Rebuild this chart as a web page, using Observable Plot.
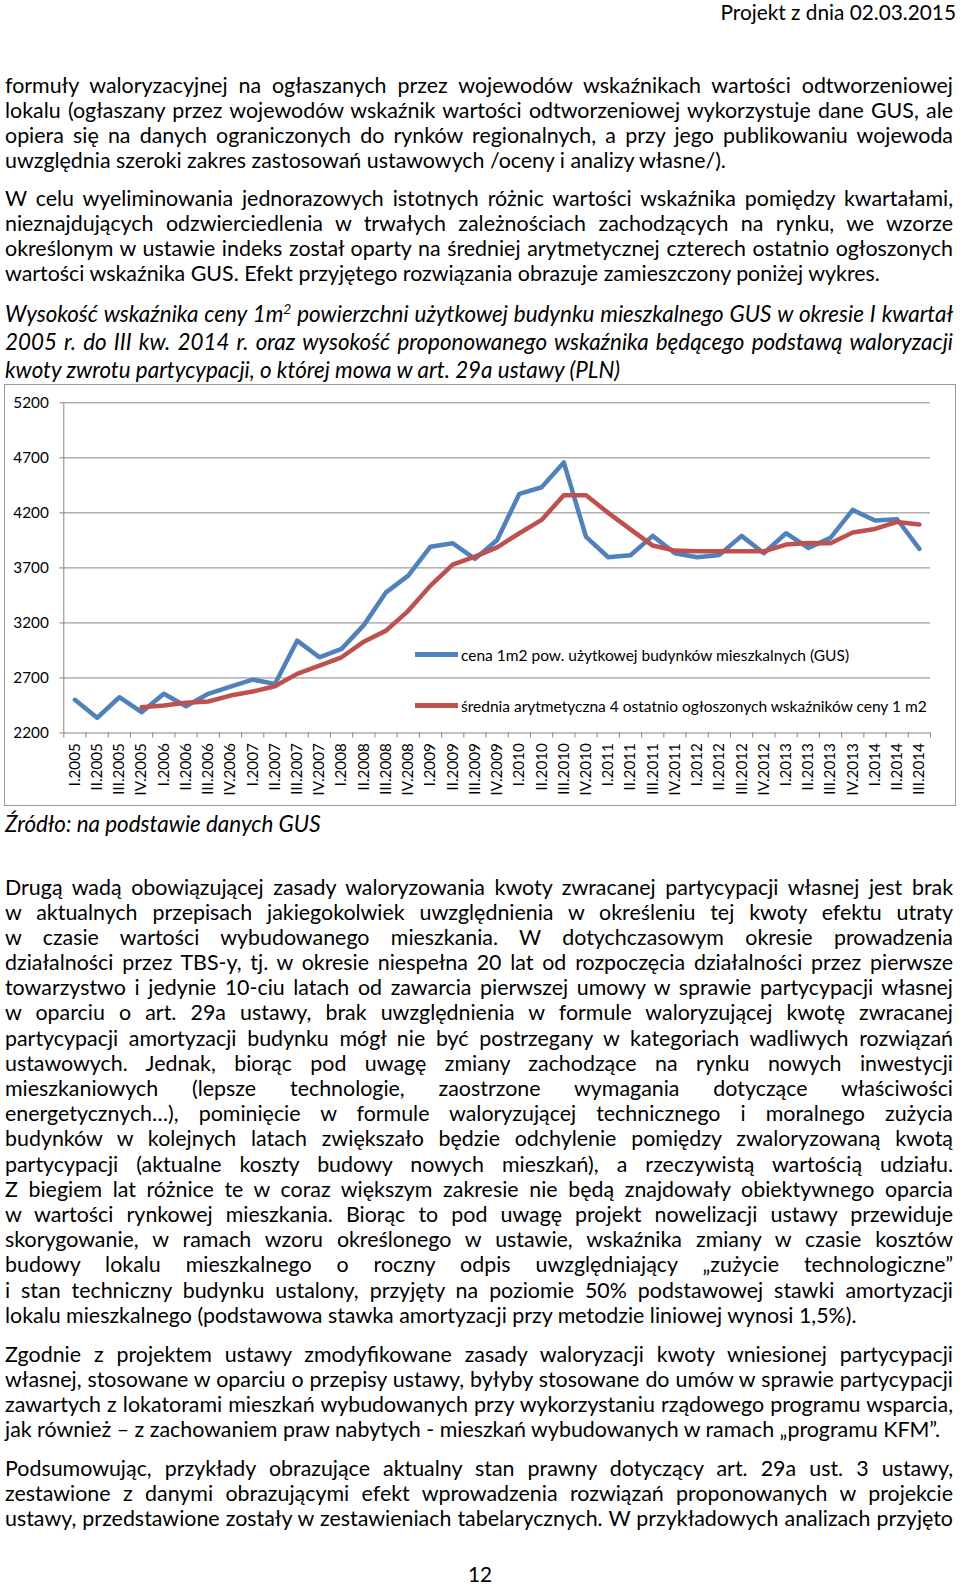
<!DOCTYPE html>
<html lang="pl">
<head>
<meta charset="utf-8">
<script src="https://cdn.jsdelivr.net/npm/d3@7"></script>
<script src="https://cdn.jsdelivr.net/npm/@observablehq/plot@0.6"></script>
<style>
  html, body { margin: 0; padding: 0; background: #fff; }
  #page { position: relative; width: 960px; height: 1585px; overflow: hidden; font-family: Lato, "Open Sans", sans-serif; color: #000; }
  .block { position: absolute; left: 5px; width: 948px; }
  .line { white-space: nowrap; overflow: visible; }
  .line span { white-space: nowrap; }
  .it { font-style: italic; }
  #chart { position: absolute; left: 4px; top: 384px; width: 952px; height: 422px; box-sizing: border-box; border: 1px solid #9a9a9a; }
  #chart svg { position: absolute; left: 0; top: 0; }
  .leg { position: absolute; display: flex; align-items: center; font-size: 15.5px; white-space: nowrap; }
  .leg i { display: inline-block; width: 43px; height: 4.5px; margin-right: 3px; }
</style>
</head>
<body>
<div id="page"></div>
<script>
// ---------- chart data ----------
const categories = ["I.2005","II.2005","III.2005","IV.2005","I.2006","II.2006","III.2006","IV.2006",
  "I.2007","II.2007","III.2007","IV.2007","I.2008","II.2008","III.2008","IV.2008",
  "I.2009","II.2009","III.2009","IV.2009","I.2010","II.2010","III.2010","IV.2010",
  "I.2011","II.2011","III.2011","IV.2011","I.2012","II.2012","III.2012","IV.2012",
  "I.2013","II.2013","III.2013","IV.2013","I.2014","II.2014","III.2014"];
const cenaGUS = [2501,2338,2525,2389,2556,2443,2556,2622,2685,2646,3039,2888,2964,3180,3478,3630,
  3893,3924,3782,3954,4373,4433,4658,3982,3797,3815,3991,3833,3797,3818,3991,3833,
  4015,3882,3973,4227,4130,4142,3873];
const srednia4 = [null,null,null,2434,2450,2474,2486,2540,2577,2625,2737,2813,2888,3030,3130,3310,
  3539,3730,3803,3887,4015,4136,4360,4360,4200,4050,3903,3857,3851,3851,3851,3851,
  3912,3927,3924,4021,4054,4118,4094];
const yTicks = [2200,2700,3200,3700,4200,4700,5200];
const seriesNames = ["cena 1m2 pow. użytkowej budynków mieszkalnych (GUS)",
  "średnia arytmetyczna 4 ostatnio ogłoszonych wskaźników ceny 1 m2"];
const seriesColors = ["#4F81BD", "#C0504D"];

// ---------- text content ----------
const header = "Projekt z dnia 02.03.2015";
const para1 = [
  "formuły waloryzacyjnej na ogłaszanych przez wojewodów wskaźnikach wartości odtworzeniowej",
  "lokalu (ogłaszany przez wojewodów wskaźnik wartości odtworzeniowej wykorzystuje dane GUS, ale",
  "opiera się na danych ograniczonych do rynków regionalnych, a przy jego publikowaniu wojewoda",
  "uwzględnia szeroki zakres zastosowań ustawowych /oceny i analizy własne/)."];
const para2 = [
  "W celu wyeliminowania jednorazowych istotnych różnic wartości wskaźnika pomiędzy kwartałami,",
  "nieznajdujących odzwierciedlenia w trwałych zależnościach zachodzących na rynku, we wzorze",
  "określonym w ustawie indeks został oparty na średniej arytmetycznej czterech ostatnio ogłoszonych",
  "wartości wskaźnika GUS. Efekt przyjętego rozwiązania obrazuje zamieszczony poniżej wykres."];
const titleLines = [
  "Wysokość wskaźnika ceny 1m<sup style=\"font-size:0.62em;line-height:0\">2</sup> powierzchni użytkowej budynku mieszkalnego GUS w okresie I kwartał",
  "2005 r. do III kw. 2014 r. oraz wysokość proponowanego wskaźnika będącego podstawą waloryzacji",
  "kwoty zwrotu partycypacji, o której mowa w art. 29a ustawy (PLN)"];
const source = "Źródło: na podstawie danych GUS";
const para3 = [
  "Drugą wadą obowiązującej zasady waloryzowania kwoty zwracanej partycypacji własnej jest brak",
  "w aktualnych przepisach jakiegokolwiek uwzględnienia w określeniu tej kwoty efektu utraty",
  "w czasie wartości wybudowanego mieszkania. W dotychczasowym okresie prowadzenia",
  "działalności przez TBS-y, tj. w okresie niespełna 20 lat od rozpoczęcia działalności przez pierwsze",
  "towarzystwo i jedynie 10-ciu latach od zawarcia pierwszej umowy w sprawie partycypacji własnej",
  "w oparciu o art. 29a ustawy, brak uwzględnienia w formule waloryzującej kwotę zwracanej",
  "partycypacji amortyzacji budynku mógł nie być postrzegany w kategoriach wadliwych rozwiązań",
  "ustawowych. Jednak, biorąc pod uwagę zmiany zachodzące na rynku nowych inwestycji",
  "mieszkaniowych (lepsze technologie, zaostrzone wymagania dotyczące właściwości",
  "energetycznych…), pominięcie w formule waloryzującej technicznego i moralnego zużycia",
  "budynków w kolejnych latach zwiększało będzie odchylenie pomiędzy zwaloryzowaną kwotą",
  "partycypacji (aktualne koszty budowy nowych mieszkań), a rzeczywistą wartością udziału.",
  "Z biegiem lat różnice te w coraz większym zakresie nie będą znajdowały obiektywnego oparcia",
  "w wartości rynkowej mieszkania. Biorąc to pod uwagę projekt nowelizacji ustawy przewiduje",
  "skorygowanie, w ramach wzoru określonego w ustawie, wskaźnika zmiany w czasie kosztów",
  "budowy lokalu mieszkalnego o roczny odpis uwzględniający „zużycie technologiczne”",
  "i stan techniczny budynku ustalony, przyjęty na poziomie 50% podstawowej stawki amortyzacji",
  "lokalu mieszkalnego (podstawowa stawka amortyzacji przy metodzie liniowej wynosi 1,5%)."];
const para4 = [
  "Zgodnie z projektem ustawy zmodyfikowane zasady waloryzacji kwoty wniesionej partycypacji",
  "własnej, stosowane w oparciu o przepisy ustawy, byłyby stosowane do umów w sprawie partycypacji",
  "zawartych z lokatorami mieszkań wybudowanych przy wykorzystaniu rządowego programu wsparcia,",
  "jak również – z zachowaniem praw nabytych - mieszkań wybudowanych w ramach „programu KFM”."];
const para5 = [
  "Podsumowując, przykłady obrazujące aktualny stan prawny dotyczący art. 29a ust. 3 ustawy,",
  "zestawione z danymi obrazującymi efekt wprowadzenia rozwiązań proponowanych w projekcie",
  "ustawy, przedstawione zostały w zestawieniach tabelarycznych. W przykładowych analizach przyjęto"];
const pageNo = "12";

// ---------- layout ----------
const page = document.getElementById("page");
const W = 948, FS = 21.4, FSI = 22.4, LH = 25.2;

function para(lines, top, opts = {}) {
  const {justifyLast = false, italic = false, lh = LH, fs = italic ? FSI : FS, html = false} = opts;
  const b = document.createElement("div");
  b.className = "block" + (italic ? " it" : "");
  b.style.top = top + "px";
  b.style.fontSize = fs + "px";
  b.style.lineHeight = lh + "px";
  page.appendChild(b);
  lines.forEach((t, k) => {
    const d = document.createElement("div");
    d.className = "line";
    d.style.height = lh + "px";
    const s = document.createElement("span");
    if (html) s.innerHTML = t; else s.textContent = t;
    d.appendChild(s);
    b.appendChild(d);
    const last = k === lines.length - 1;
    const w = s.getBoundingClientRect().width;
    const spaces = s.textContent.trim().split(/\s+/).length - 1;
    if ((!last || justifyLast) && spaces > 0) {
      s.style.wordSpacing = ((W - w) / spaces) + "px";
    } else if (w > W && spaces > 0) {
      s.style.wordSpacing = ((W - w) / spaces) + "px";
    }
  });
  return b;
}

// header
const h = document.createElement("div");
h.textContent = header;
Object.assign(h.style, {position: "absolute", right: "4px", top: "-0.5px", fontSize: "20.8px", lineHeight: "24px"});
page.appendChild(h);

para(para1, 72.5);
para(para2, 185.5);
para(titleLines, 299.5, {italic: true, lh: 28.4, html: true});
para([source], 810.5, {italic: true});
para(para3, 874.5);
para(para4, 1341.5);
para(para5, 1455.5, {justifyLast: true});

const pn = document.createElement("div");
pn.textContent = pageNo;
Object.assign(pn.style, {position: "absolute", left: "0", width: "960px", textAlign: "center", top: "1561px", fontSize: "20.8px", lineHeight: "25px"});
page.appendChild(pn);

// ---------- chart ----------
const chartDiv = document.createElement("div");
chartDiv.id = "chart";
page.appendChild(chartDiv);

const data = categories.map((c, i) => ({i, c, cena: cenaGUS[i], sr: srednia4[i]}));
const boundaries = d3.range(0, categories.length + 1);
const centers = d3.range(0, categories.length).map(i => i + 0.5);

const chart = Plot.plot({
  width: 950, height: 420,
  marginLeft: 58.3, marginRight: 25, marginTop: 17.3, marginBottom: 72.5,
  style: {fontFamily: "Lato, sans-serif", fontSize: "15.3px", color: "#000", background: "transparent", overflow: "visible"},
  x: {domain: [0, categories.length], axis: null},
  y: {domain: [2200, 5200], axis: null},
  marks: [
    Plot.gridY(yTicks, {stroke: "#868686", strokeOpacity: 1, strokeWidth: 1}),
    Plot.ruleX([0], {y1: 2200, y2: 5200, stroke: "#868686"}),
    Plot.axisY({ticks: yTicks, tickSize: 4, tickPadding: 11, tickFormat: "d", stroke: "#868686", fill: "#000", label: null}),
    Plot.axisX({ticks: boundaries, tickSize: 5, tickFormat: () => "", stroke: "#868686", label: null}),
    Plot.axisX({ticks: centers, tickSize: 0, tickPadding: 10, tickRotate: -90, tickFormat: d => categories[Math.round(d - 0.5)], fill: "#000", label: null}),
    Plot.lineY(data, {x: d => d.i + 0.5, y: "cena", stroke: seriesColors[0], strokeWidth: 4.5, strokeLinejoin: "round", strokeLinecap: "round"}),
    Plot.lineY(data.filter(d => d.sr != null), {x: d => d.i + 0.5, y: "sr", stroke: seriesColors[1], strokeWidth: 4.5, strokeLinejoin: "round", strokeLinecap: "round"})
  ]
});
chartDiv.appendChild(chart);

// legend (inside chart frame, as in the reference)
const legTops = [269.5, 320.5];
seriesNames.forEach((name, k) => {
  const l = document.createElement("div");
  l.className = "leg";
  l.style.left = "410px";
  l.style.top = (legTops[k] - 10) + "px";
  l.style.height = "20px";
  const sw = document.createElement("i");
  sw.style.background = seriesColors[k];
  l.appendChild(sw);
  const t = document.createElement("span");
  t.textContent = name;
  l.appendChild(t);
  chartDiv.appendChild(l);
});
</script>
</body>
</html>
